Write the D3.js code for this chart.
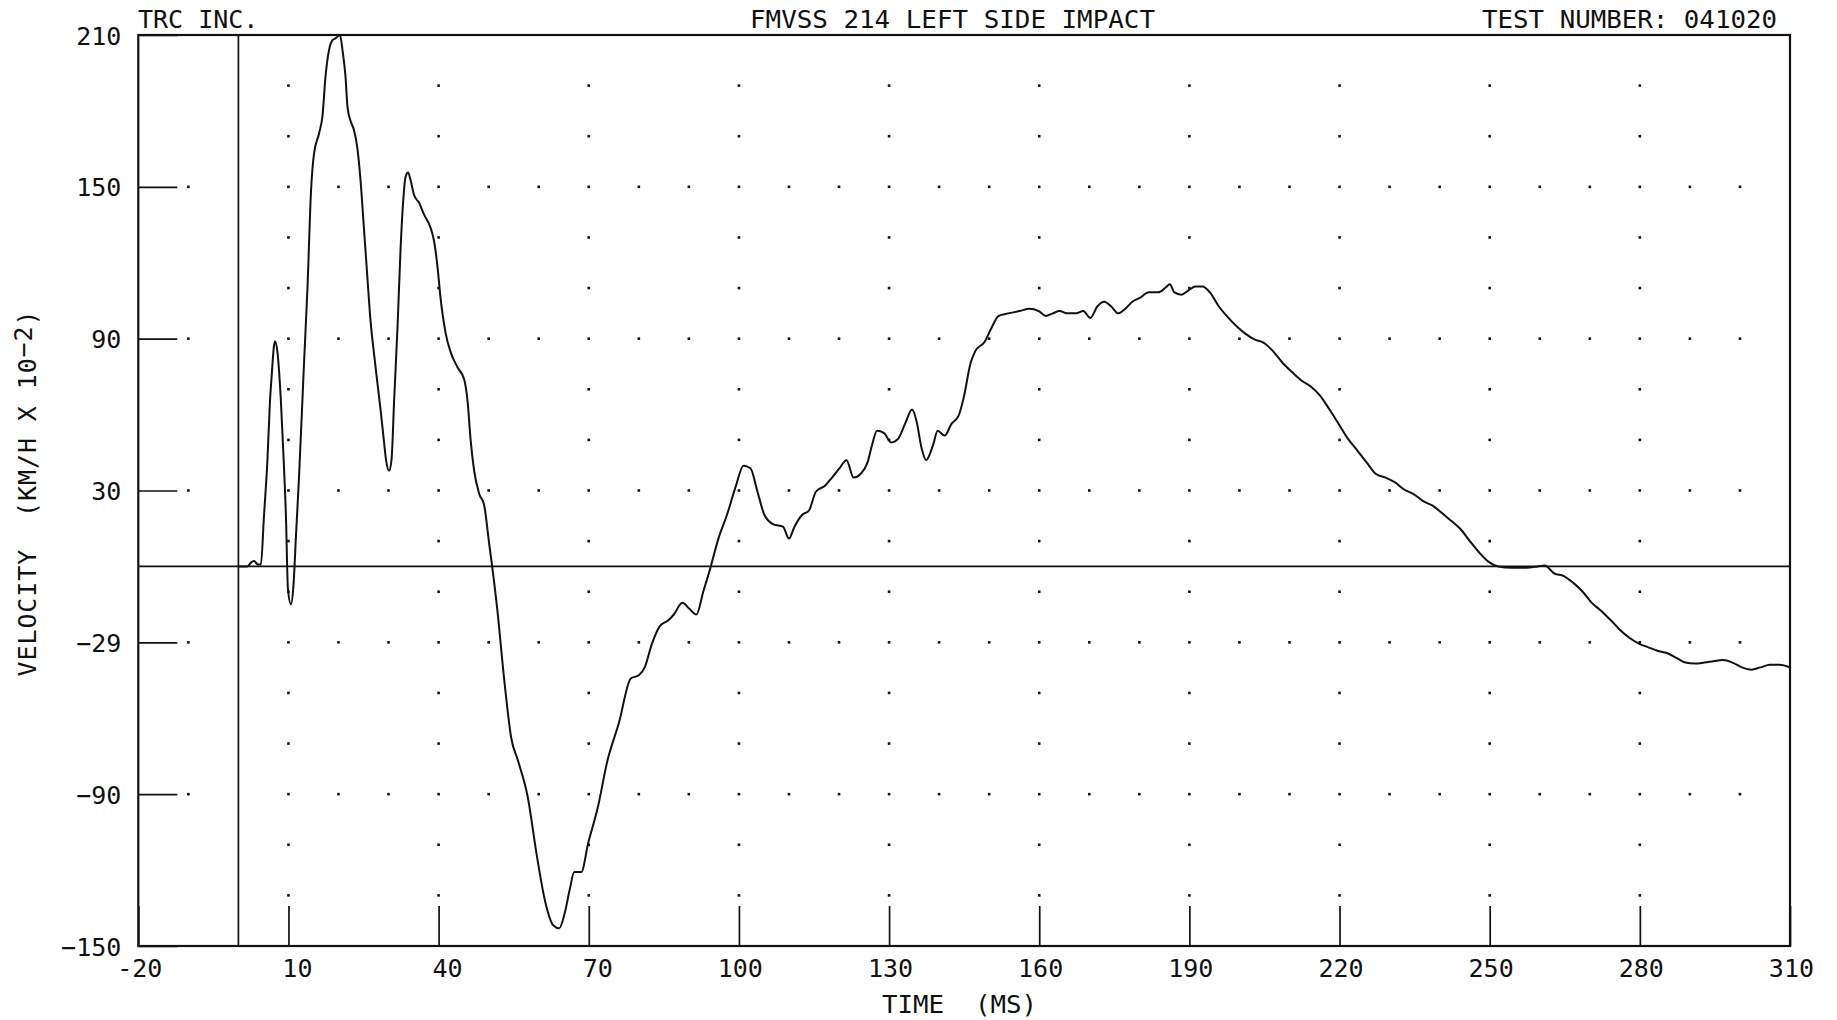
<!DOCTYPE html>
<html><head><meta charset="utf-8">
<script src="https://cdn.jsdelivr.net/npm/d3@7"></script>
<style>
html,body{margin:0;padding:0;background:#fff;}
svg text{font-family:"DejaVu Sans Mono","Liberation Mono",monospace;fill:#111;white-space:pre;}
</style></head><body>
<svg id="c" width="1837" height="1020"></svg>
<script>
// ---- data ----
const timeMs = [0,1.8,2.5,3.1,3.9,4.5,5.1,5.8,6.3,6.6,7.3,7.8,8.5,9,9.5,9.9,10.5,11,11.5,12.1,13.1,13.8,14.5,15.1,16.1,16.8,17.4,18.1,18.8,19.4,20.3,20.8,21.4,21.8,22.5,23.1,23.8,24.4,25.1,25.8,26.4,27.1,27.8,28.4,29,29.5,30.1,30.6,31.1,31.8,32.4,32.9,33.4,33.9,34.4,35.1,36.1,37.1,38.4,39.1,39.8,40.4,41.4,42.4,43.8,45.1,45.8,46.4,47.1,48.1,49.1,50.1,50.7,51.7,53.1,54.5,55.9,57.8,59.6,61.3,62.9,64.1,65.2,66.2,67.1,68.5,69.9,71.8,73.7,76,78.4,80,81.2,82.6,84.2,85.9,87,88.7,90.1,91.5,92.9,94.3,95.9,97.6,99.4,100.9,102.3,103.7,105.1,106.9,108.8,110,111.1,112.6,114,115.4,117.2,118.6,120.1,121.5,122.9,124.3,125.7,126.6,127.6,129,130.4,131.8,133.2,134.6,135.5,136.5,137.4,138.8,139.7,141.1,142.5,143.9,144.9,146.3,147.2,149.1,150.5,151.9,153.8,156.1,158,159.9,161.3,162.7,164.1,165.5,167.4,168.8,170.2,171.6,173,174.4,175.8,177.2,178.6,180,181.9,183.8,185.2,186.1,187,188.4,189.9,191.2,192.6,194.1,195.9,197.8,199.7,201.1,203,204.8,206.7,208.6,210.5,212.3,214.2,216.1,218,219.8,221.7,223.6,225.4,227.3,229.2,231.1,232.9,234.8,236.7,238.6,240.4,242.3,244.2,246,247.9,249.8,251.7,254.5,257.3,259.6,261,262.9,264.8,266.7,268.5,270.4,272.3,274.2,276,277.9,279.8,281.6,283.5,285.4,287.3,289.1,291,292.9,294.7,296.6,298.5,300.4,302.3,304.1,306,307.9,310];
const velocity = [0,0,1.5,2.1,0.8,0.8,19.7,42,65,74,89,84.7,65,44,19.7,-9,-15,-7.6,12,34.8,80,110,148,163,171,178,193.5,204,208,208.7,210,204,193.5,181.5,175.5,172.4,164.8,152.6,133,113.4,97,84,72,62,51,42,37.8,42.3,65,95,125.5,143.7,154,155.7,152.7,146.7,143.7,139,133.8,128.5,118,105.9,92.2,84.7,78.6,74,65,49.9,37.8,28.7,24.2,9,0,-16.6,-44.6,-67.7,-77,-91,-114,-132.5,-141.8,-143,-137,-127.7,-120.8,-120.8,-109.2,-95.3,-77,-62,-44.3,-43,-39.8,-30.7,-23.6,-21.3,-19,-14.4,-16.7,-19,-9.8,-0.6,11,20.3,31.8,39.8,38.8,29.6,20.3,16.6,15.7,11,15.7,20.3,22.1,29.6,31.9,35.1,38.8,42,35.1,36.5,41.1,48,53.6,52.7,49,50.4,56.4,62,57.3,46.7,42,48,53.6,51.7,56.4,59.6,66.6,80.5,85,88.8,94.4,99,100,100.9,101.8,100.9,99,100,100.9,100,100,100.9,98.2,102.7,104.6,102.7,100,101.8,104.6,106,108.3,108.3,110.1,111.5,108.3,107.4,109.2,110.6,110.6,108.3,102.7,98.2,94.4,92.1,89.7,88.4,85.1,80.5,76.8,73.6,71.2,67.5,62,56.4,50.4,45.7,41.1,36.5,35.1,33.2,30.4,28.6,25.8,24,21.2,18,14.7,10.1,5.5,1.8,0,-0.5,-0.5,0,0.4,-2.8,-3.8,-6.5,-9.8,-14.4,-17.6,-21.3,-25,-28.2,-30.5,-31.9,-33.3,-34.2,-36.1,-38,-38.4,-38,-37.5,-37,-38,-39.9,-40.8,-39.9,-38.9,-38.9,-39.9];
const xTickValues = [-20,10,40,70,100,130,160,190,220,250,280,310];
const xTickLabels = ["-20","10","40","70","100","130","160","190","220","250","280","310"];
const yTickValues = [210,150,90,30,-30,-90,-150];
const yTickLabels = ["210","150","90","30","\u221229","\u221290","\u2212150"];
const gridRowsMajor = [150,90,30,-30,-90];
const gridRowsMinor = [190,170,130,110,70,50,10,-10,-50,-70,-110,-130];
const gridColsMajor = d3.range(-10,301,10);
const gridColsMinor = d3.range(10,281,30);
const headerLeft = "TRC INC.";
const headerTitle = "FMVSS 214 LEFT SIDE IMPACT";
const headerRight = "TEST NUMBER: 041020";
const xTitle = "TIME  (MS)";

// ---- drawing ----
const svg = d3.select("#c");
const L=138.3, R=1790, T=35, B=946;
const x = d3.scaleLinear().domain([-20,310]).range([L,R]);
const y = d3.scaleLinear().domain([-150,210]).range([B,T]);

// dots
const dots = [];
gridRowsMajor.forEach(r=>gridColsMajor.forEach(c=>{ if(c!==0) dots.push([c,r]); }));
gridRowsMinor.forEach(r=>gridColsMinor.forEach(c=>dots.push([c,r])));
svg.append("g").selectAll("rect").data(dots).join("rect")
  .attr("x",d=>x(d[0])-1.3).attr("y",d=>y(d[1])-1.3)
  .attr("width",2.6).attr("height",2.6).attr("fill","#111");

// zero lines
svg.append("line").attr("x1",x(0)).attr("x2",x(0)).attr("y1",T).attr("y2",B)
  .attr("stroke","#111").attr("stroke-width",1.7);
svg.append("line").attr("x1",L).attr("x2",R).attr("y1",y(0)).attr("y2",y(0))
  .attr("stroke","#111").attr("stroke-width",1.7);

// axes
const yAxis = d3.axisLeft(y).tickValues(yTickValues)
  .tickFormat((d,i)=>yTickLabels[i]).tickSizeInner(-39).tickSizeOuter(0).tickPadding(18);
const gy = svg.append("g").attr("transform",`translate(${L},0)`).call(yAxis);
gy.select(".domain").remove();
gy.selectAll(".tick line").attr("stroke","#111").attr("stroke-width",1.7);
gy.selectAll(".tick text").attr("font-size",25).attr("fill","#111")
  .attr("font-family","DejaVu Sans Mono").attr("x",-17).attr("dy","0.36em");

const xAxis = d3.axisBottom(x).tickValues(xTickValues)
  .tickFormat((d,i)=>xTickLabels[i]).tickSizeInner(-40).tickSizeOuter(0);
const gx = svg.append("g").attr("transform",`translate(0,${B})`).call(xAxis);
gx.select(".domain").remove();
gx.selectAll(".tick line").attr("stroke","#111").attr("stroke-width",1.7);
gx.selectAll(".tick text").attr("font-size",25).attr("fill","#111")
  .attr("font-family","DejaVu Sans Mono").attr("text-anchor","end")
  .attr("x",23.5).attr("y",31).attr("dy",0);

// frame
svg.append("rect").attr("x",L).attr("y",T).attr("width",R-L).attr("height",B-T)
  .attr("fill","none").attr("stroke","#111").attr("stroke-width",2.2);

// curve
const data = timeMs.map((t,i)=>[t,velocity[i]]);
svg.append("path").datum(data)
  .attr("d", d3.line().x(d=>x(d[0])).y(d=>y(d[1])).curve(d3.curveMonotoneX))
  .attr("fill","none").attr("stroke","#111").attr("stroke-width",2);

// headers
svg.append("text").attr("x",138).attr("y",27.5).attr("font-size",25).text(headerLeft);
svg.append("text").attr("x",750).attr("y",27.5).attr("font-size",25)
  .attr("textLength",405).attr("lengthAdjust","spacingAndGlyphs").text(headerTitle);
svg.append("text").attr("x",1482).attr("y",27.5).attr("font-size",25)
  .attr("textLength",295).attr("lengthAdjust","spacingAndGlyphs").text(headerRight);
svg.append("text").attr("x",882).attr("y",1013).attr("font-size",25)
  .attr("textLength",155).attr("lengthAdjust","spacingAndGlyphs").text(xTitle);

// y title
const yt = svg.append("text").attr("transform","translate(36,493) rotate(-90)")
  .attr("text-anchor","middle").attr("font-size",25).attr("letter-spacing",0.9);
yt.append("tspan").text("VELOCITY  (KM/H X 10");
yt.append("tspan").attr("dy",-4).text("\u22122");
yt.append("tspan").attr("dy",4).text(")");
</script>
</body></html>
